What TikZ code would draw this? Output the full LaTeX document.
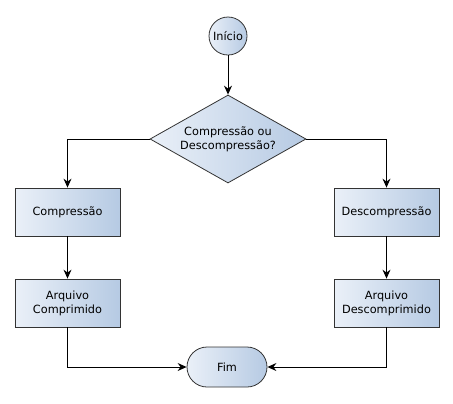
\documentclass[tikz,border=0pt]{standalone}
\usepackage{fontspec}
\setmainfont{DejaVu Sans}
\usetikzlibrary{shapes.geometric,shapes.misc,arrows.meta}
\definecolor{gl}{HTML}{EAF0F8}
\definecolor{gr}{HTML}{B6CAE3}
\tikzset{
  shapebase/.style={draw=black!80, line width=0.8bp, left color=gl, right color=gr, font=\fontsize{11.3bp}{14bp}\selectfont, align=center, inner sep=0pt},
  procbox/.style={shapebase, rectangle, minimum width=105bp, minimum height=48bp},
  decbox/.style={shapebase, diamond, minimum width=156bp, minimum height=88bp, aspect=1.77},
  startnode/.style={shapebase, circle, minimum size=38bp},
  endnode/.style={shapebase, rounded rectangle, minimum width=80bp, minimum height=40bp},
  conn/.style={draw=black, line width=1bp, -{Stealth[length=9bp,width=8bp,inset=3bp]}}
}
\begin{document}
\begin{tikzpicture}[x=1bp,y=-1bp]
\useasboundingbox (0,0) rectangle (453,403);
\node[startnode] (ini) at (228,36) {Início};
\node[decbox] (dec) at (228,139) {Compressão ou\\Descompressão?};
\node[procbox] (comp) at (67.5,212) {Compressão};
\node[procbox] (desc) at (386.5,212) {Descompressão};
\node[procbox] (acomp) at (67.5,303) {Arquivo\\Comprimido};
\node[procbox] (adesc) at (386.5,303) {Arquivo\\Descomprimido};
\node[endnode] (fim) at (227,367) {Fim};
\draw[conn] (ini) -- (dec);
\draw[conn] (dec.west) -| (comp.north);
\draw[conn] (dec.east) -| (desc.north);
\draw[conn] (comp) -- (acomp);
\draw[conn] (desc) -- (adesc);
\draw[conn] (acomp.south) |- (fim.west);
\draw[conn] (adesc.south) |- (fim.east);
\end{tikzpicture}
\end{document}
